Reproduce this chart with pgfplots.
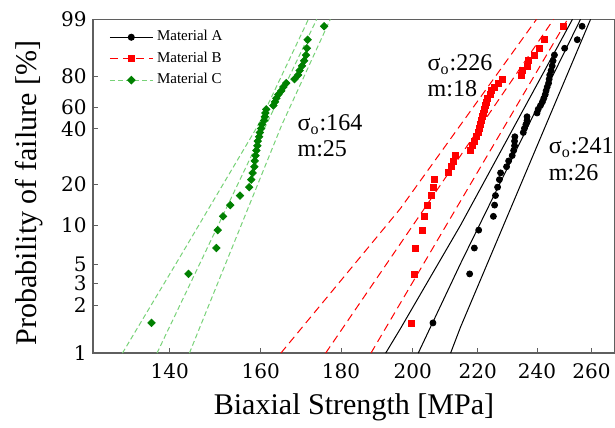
\documentclass[border=0pt]{standalone}
\usepackage{pgfplots}
\pgfplotsset{compat=1.18}
\usepackage{pgfplotstable}
\usepackage{fontspec}
\setmainfont{Liberation Serif}
\newfontfamily\tickfont{DejaVu Serif}
\definecolor{mred}{RGB}{255,0,0}
\definecolor{lgreen}{RGB}{120,210,120}
\definecolor{dgreen}{RGB}{0,128,0}
\definecolor{axgray}{RGB}{95,95,95}

% rank, failure probability F [%], strengths [MPa] of Material C, B, A
\pgfplotstableread{
i F C B A
1 1.733 136.3 199.6 206.0
2 4.208 143.9 200.4 217.4
3 6.683 149.9 200.9 218.9
4 9.158 150.2 202.8 220.3
5 11.634 151.4 203.3 225.1
6 14.109 153.0 204.2 225.5
7 16.584 155.2 205.4 225.8
8 19.059 157.3 206.0 226.5
9 21.535 157.8 206.5 227.1
10 24.010 158.1 210.8 227.5
11 26.485 158.5 211.5 229.5
12 28.960 158.6 212.2 230.2
13 31.436 158.8 212.9 231.4
14 33.911 159.0 217.5 231.9
15 36.386 159.2 218.2 232.2
16 38.861 159.3 218.9 232.2
17 41.337 159.6 219.7 232.3
18 43.812 159.8 220.1 235.2
19 46.287 160.1 220.4 235.6
20 48.762 160.3 220.9 236.1
21 51.238 160.8 221.1 236.5
22 53.713 161.0 221.4 236.5
23 56.188 161.1 221.9 240.0
24 58.663 161.3 222.3 240.4
25 61.139 163.0 222.6 241.2
26 63.614 163.4 222.9 241.9
27 66.089 163.7 223.2 242.4
28 68.564 164.2 224.0 242.9
29 71.040 164.9 224.6 243.2
30 73.515 165.4 225.4 243.6
31 75.990 166.1 226.6 244.1
32 78.465 168.1 228.1 244.3
33 80.941 169.0 234.5 244.5
34 83.416 169.4 234.8 245.0
35 85.891 170.0 236.5 245.4
36 88.366 170.5 237.1 245.7
37 90.842 171.0 239.1 246.2
38 93.317 171.2 240.9 249.9
39 95.792 171.4 242.6 254.6
40 98.267 175.6 249.6 256.4
}\data

\begin{document}
\begin{tikzpicture}
\begin{axis}[
  scale only axis,
  width=260.75pt, height=166.7pt,
  clip mode=individual,
  xmode=log,
  xmin=125.07, xmax=269.1,
  ymin=-4.6002, ymax=1.5272,
  xtick={140,160,180,200,220,240,260},
  xticklabels={140,160,180,200,220,240,260},
  ytick={-4.6002,-3.725,-3.326,-2.9702,-2.2504,-1.4999,-0.484,-0.0874,0.4759,1.5272},
  yticklabels={1,2,3,5,10,20,40,60,80,99},
  minor tick num=0,
  tick align=inside,
  xtick pos=bottom, ytick pos=left,
  major tick length=2.5pt,
  axis line style={axgray, line width=0.6pt},
  tick style={axgray, line width=0.5pt},
  /pgf/number format/assume math mode=true,
  ticklabel style={font=\tickfont\fontsize{10}{11}\selectfont, inner sep=1.5pt},
  xticklabel style={yshift=-3.5pt},
  yticklabel style={xshift=-1.5pt},
  xlabel={Biaxial Strength [MPa]},
  ylabel={Probability of failure [\%]},
  label style={font=\fontsize{15}{18}\selectfont},
  xlabel style={at={(axis description cs:0.5,0)}, anchor=center, yshift=-27pt},
  ylabel style={at={(axis description cs:0,0.48)}, anchor=center, yshift=32.1pt},
  legend style={at={(axis description cs:0.0,1.0)}, anchor=north west,
    draw=none, fill=none, font=\fontsize{7.5}{9}\selectfont,
    row sep=0pt, inner xsep=8pt, inner ysep=3.4pt},
  legend cell align=left,
  legend image code/.code={\draw[mark repeat=2,mark phase=2,#1] plot coordinates {(0pt,0pt) (10.7pt,0pt) (21.3pt,0pt)};},
]
\addlegendimage{black, line width=0.5pt, mark=*, mark size=1.5pt}
\addlegendentry{Material A}
\addlegendimage{mred, line width=0.5pt, dash pattern=on 4pt off 2.5pt, mark=square*, mark size=1.5pt, mark options={solid}}
\addlegendentry{Material B}
\addlegendimage{lgreen, line width=0.5pt, dash pattern=on 2.5pt off 1.5pt, mark=square*, mark size=1.3pt, mark options={solid, rotate=45, fill=dgreen, draw=dgreen}}
\addlegendentry{Material C}

% Material C
\addplot[forget plot, lgreen, line width=0.5pt, dash pattern=on 2.5pt off 1.5pt] coordinates {(130.6,-4.6002) (142.1,-2.837) (159.4,-0.4155) (171.6,1.5272)};
\addplot[forget plot, lgreen, line width=0.5pt, dash pattern=on 2.5pt off 1.5pt] coordinates {(137.4,-4.6002) (173.7,1.5272)};
\addplot[forget plot, lgreen, line width=0.5pt, dash pattern=on 2.5pt off 1.5pt] coordinates {(144.1,-4.6002) (165.0,-0.4155) (177.2,1.5272)};
\addplot[forget plot, only marks, mark=square*, mark size=1.3pt, mark options={rotate=45, fill=dgreen, draw=dgreen}]
  table[x=C, y expr={ln(-ln(1-\thisrow{F}/100))}] {\data};

% Material B
\addplot[forget plot, mred, line width=0.5pt, dash pattern=on 4pt off 2.5pt] coordinates {(164.8,-4.6002) (185.2,-2.837) (196.4,-1.947) (239.8,1.5272)};
\addplot[forget plot, mred, line width=0.5pt, dash pattern=on 4pt off 2.5pt] coordinates {(176.0,-4.6002) (245.9,1.5272)};
\addplot[forget plot, mred, line width=0.5pt, dash pattern=on 4pt off 2.5pt] coordinates {(188.1,-4.6002) (251.0,1.5272)};
\addplot[forget plot, only marks, mark=square*, mark size=1.5pt, mark options={fill=mred, draw=mred}]
  table[x=B, y expr={ln(-ln(1-\thisrow{F}/100))}] {\data};

% Material A
\addplot[forget plot, black, line width=0.5pt] coordinates {(192.2,-4.6002) (196.4,-4.153) (214.5,-2.254) (252.8,1.5272)};
\addplot[forget plot, black, line width=0.5pt] coordinates {(201.6,-4.6002) (214.5,-2.958) (255.8,1.5272)};
\addplot[forget plot, black, line width=0.5pt] coordinates {(211.4,-4.6002) (214.5,-4.124) (259.6,1.5272)};
\addplot[forget plot, only marks, mark=*, mark size=1.5pt, mark options={fill=black, draw=black}]
  table[x=A, y expr={ln(-ln(1-\thisrow{F}/100))}] {\data};

\node[anchor=west, align=left, inner sep=0pt, font=\fontsize{12}{13}\selectfont] at (axis cs:168.8,-0.618) {σ\textsubscript{o}:164\\m:25};
\node[anchor=west, align=left, inner sep=0pt, font=\fontsize{12}{13}\selectfont] at (axis cs:204.3,0.485) {σ\textsubscript{o}:226\\m:18};
\node[anchor=west, align=left, inner sep=0pt, font=\fontsize{12}{13}\selectfont] at (axis cs:244.1,-1.041) {σ\textsubscript{o}:241\\m:26};
\end{axis}
\path (current axis.south west) ++(-46.4pt,-37.2pt) coordinate (bbl);
\path (current axis.north east) ++(0pt,9.65pt) coordinate (btr);
\pgfresetboundingbox
\path[use as bounding box] (bbl) rectangle (btr);
\end{tikzpicture}
\end{document}
